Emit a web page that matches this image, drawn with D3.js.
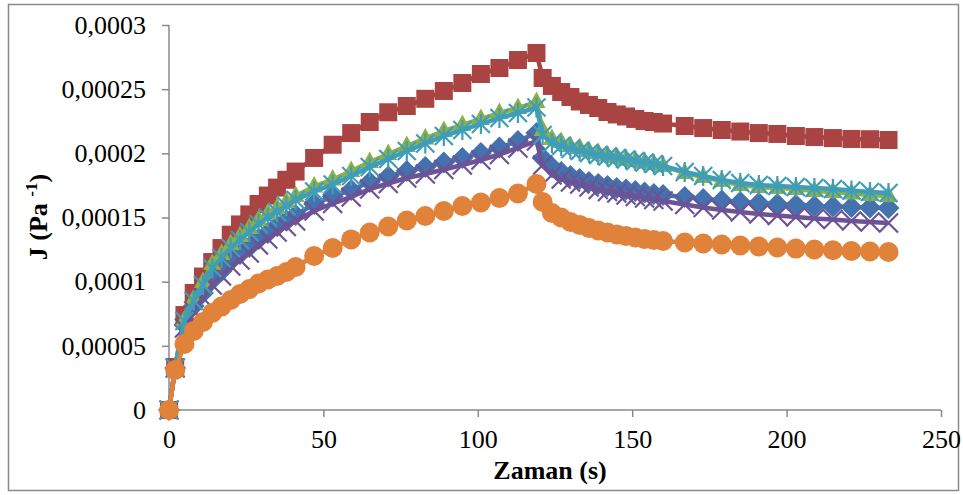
<!DOCTYPE html>
<html><head><meta charset="utf-8">
<script src="https://cdn.jsdelivr.net/npm/d3@7"></script>
<style>body{margin:0;background:#fff} svg{display:block}</style>
</head><body><svg id="c" width="963" height="495"></svg>
<script>
// Time (s)
const creepTime = [0,2,5,8,11,14,17,20,23,26,29,32,35,38,41,47,53,59,65,71,77,83,89,95,101,107,113,119];
const recoveryTime = [121,124,127,130,133,136,139,142,145,148,151,154,157,160,167,173,179,185,191,197,203,209,215,221,227,233];
const xTicks = [0,50,100,150,200,250];
const yTicks = [0,0.00005,0.0001,0.00015,0.0002,0.00025,0.0003];
const yTickLabels = ["0","0,00005","0,0001","0,00015","0,0002","0,00025","0,0003"];

// J (Pa^-1) — series 1: blue diamonds
const blueCreep = [0,3.27e-5,6.62e-5,8.10e-5,9.12e-5,1.013e-4,1.083e-4,1.161e-4,1.216e-4,1.270e-4,1.332e-4,1.379e-4,1.434e-4,1.477e-4,1.519e-4,1.605e-4,1.664e-4,1.714e-4,1.777e-4,1.819e-4,1.862e-4,1.894e-4,1.929e-4,1.964e-4,2.003e-4,2.045e-4,2.096e-4,2.158e-4];
const blueRecovery = [1.964e-4,1.894e-4,1.855e-4,1.823e-4,1.800e-4,1.777e-4,1.761e-4,1.745e-4,1.730e-4,1.718e-4,1.706e-4,1.695e-4,1.683e-4,1.675e-4,1.660e-4,1.644e-4,1.632e-4,1.621e-4,1.613e-4,1.605e-4,1.597e-4,1.590e-4,1.586e-4,1.582e-4,1.578e-4,1.574e-4];
// series 2: red squares
const redCreep = [0,3.35e-5,7.40e-5,9.12e-5,1.040e-4,1.153e-4,1.262e-4,1.366e-4,1.446e-4,1.524e-4,1.605e-4,1.671e-4,1.733e-4,1.794e-4,1.858e-4,1.964e-4,2.067e-4,2.158e-4,2.244e-4,2.320e-4,2.369e-4,2.425e-4,2.486e-4,2.548e-4,2.618e-4,2.665e-4,2.727e-4,2.782e-4];
const redRecovery = [2.587e-4,2.525e-4,2.478e-4,2.439e-4,2.404e-4,2.377e-4,2.353e-4,2.322e-4,2.303e-4,2.287e-4,2.268e-4,2.252e-4,2.244e-4,2.232e-4,2.213e-4,2.197e-4,2.182e-4,2.170e-4,2.158e-4,2.151e-4,2.135e-4,2.127e-4,2.119e-4,2.112e-4,2.110e-4,2.104e-4];
// series 3: green triangles
const greenCreep = [0,3.27e-5,7.01e-5,8.65e-5,9.97e-5,1.138e-4,1.216e-4,1.294e-4,1.356e-4,1.418e-4,1.481e-4,1.531e-4,1.574e-4,1.621e-4,1.668e-4,1.742e-4,1.796e-4,1.862e-4,1.932e-4,1.995e-4,2.057e-4,2.116e-4,2.174e-4,2.221e-4,2.268e-4,2.314e-4,2.353e-4,2.400e-4];
const greenRecovery = [2.182e-4,2.112e-4,2.088e-4,2.057e-4,2.042e-4,2.018e-4,2.003e-4,1.983e-4,1.971e-4,1.952e-4,1.940e-4,1.929e-4,1.917e-4,1.901e-4,1.847e-4,1.816e-4,1.784e-4,1.753e-4,1.738e-4,1.730e-4,1.722e-4,1.706e-4,1.699e-4,1.687e-4,1.675e-4,1.668e-4];
// series 4: purple x with line
const purpleCreep = [0,3.27e-5,6.39e-5,7.71e-5,8.73e-5,9.74e-5,1.044e-4,1.122e-4,1.169e-4,1.223e-4,1.286e-4,1.332e-4,1.387e-4,1.430e-4,1.473e-4,1.551e-4,1.609e-4,1.660e-4,1.722e-4,1.765e-4,1.808e-4,1.839e-4,1.874e-4,1.909e-4,1.948e-4,1.991e-4,2.042e-4,2.096e-4];
const purpleRecovery = [1.909e-4,1.831e-4,1.800e-4,1.777e-4,1.761e-4,1.738e-4,1.718e-4,1.703e-4,1.691e-4,1.675e-4,1.664e-4,1.652e-4,1.640e-4,1.629e-4,1.601e-4,1.578e-4,1.558e-4,1.543e-4,1.527e-4,1.516e-4,1.504e-4,1.492e-4,1.484e-4,1.473e-4,1.465e-4,1.457e-4];
// series 5: cyan stars with line
const cyanCreep = [0,3.27e-5,6.94e-5,8.49e-5,9.74e-5,1.106e-4,1.184e-4,1.262e-4,1.325e-4,1.387e-4,1.449e-4,1.500e-4,1.543e-4,1.590e-4,1.636e-4,1.703e-4,1.757e-4,1.823e-4,1.893e-4,1.956e-4,2.018e-4,2.077e-4,2.135e-4,2.182e-4,2.229e-4,2.275e-4,2.314e-4,2.357e-4];
const cyanRecovery = [2.143e-4,2.080e-4,2.057e-4,2.034e-4,2.018e-4,2.003e-4,1.987e-4,1.975e-4,1.964e-4,1.952e-4,1.940e-4,1.929e-4,1.917e-4,1.901e-4,1.855e-4,1.823e-4,1.792e-4,1.769e-4,1.753e-4,1.745e-4,1.738e-4,1.730e-4,1.722e-4,1.710e-4,1.699e-4,1.691e-4];
// series 6: orange circles
const orangeCreep = [0,3.12e-5,5.14e-5,6.16e-5,6.86e-5,7.56e-5,8.06e-5,8.57e-5,9.04e-5,9.43e-5,9.86e-5,1.017e-4,1.044e-4,1.075e-4,1.114e-4,1.200e-4,1.262e-4,1.329e-4,1.383e-4,1.430e-4,1.477e-4,1.512e-4,1.551e-4,1.590e-4,1.617e-4,1.652e-4,1.687e-4,1.761e-4];
const orangeRecovery = [1.621e-4,1.535e-4,1.500e-4,1.465e-4,1.442e-4,1.418e-4,1.399e-4,1.383e-4,1.368e-4,1.356e-4,1.344e-4,1.332e-4,1.325e-4,1.317e-4,1.305e-4,1.297e-4,1.290e-4,1.282e-4,1.274e-4,1.266e-4,1.258e-4,1.251e-4,1.245e-4,1.239e-4,1.235e-4,1.231e-4];

const time = creepTime.concat(recoveryTime);
const series = [
  {name:"1", color:"#4372AE", marker:"diamond", values: blueCreep.concat(blueRecovery)},
  {name:"2", color:"#A94442", marker:"square", values: redCreep.concat(redRecovery)},
  {name:"3", color:"#8CB048", marker:"triangle", values: greenCreep.concat(greenRecovery)},
  {name:"4", color:"#6C5396", marker:"x", values: purpleCreep.concat(purpleRecovery)},
  {name:"5", color:"#3E9EBA", marker:"star", values: cyanCreep.concat(cyanRecovery)},
  {name:"6", color:"#E0823A", marker:"circle", values: orangeCreep.concat(orangeRecovery)}
];

const svg = d3.select("#c");
const font = "'Liberation Serif','Times New Roman',serif";
const axisColor = "#8a8a8a";

svg.append("rect").attr("x",8.5).attr("y",4.5).attr("width",950).attr("height",486)
  .attr("fill","none").attr("stroke",axisColor).attr("stroke-width",1.5);

const x = d3.scaleLinear().domain([0,250]).range([169,941]);
const y = d3.scaleLinear().domain([0,0.0003]).range([410,25]);

// axes
const yAxis = d3.axisLeft(y).tickValues(yTicks).tickFormat((d,i)=>yTickLabels[i]).tickSize(7).tickPadding(16);
const gy = svg.append("g").attr("transform",`translate(${x(0)},0)`).call(yAxis);
const xAxis = d3.axisBottom(x).tickValues(xTicks).tickFormat(d=>String(d)).tickSize(7).tickPadding(13);
const gx = svg.append("g").attr("transform",`translate(0,${y(0)})`).call(xAxis);
[gx,gy].forEach(g=>{
  g.select(".domain").attr("stroke",axisColor).attr("stroke-width",1.5);
  g.selectAll(".tick line").attr("stroke",axisColor).attr("stroke-width",1.5);
  g.selectAll(".tick text").attr("font-family",font).attr("font-size",26).attr("fill","#000");
});
gy.select(".domain").attr("d",`M-0,${y(0.0003)}V${y(0)}`);
gx.select(".domain").attr("d",`M${x(0)},0H${x(250)}`);

// series
const line = d3.line().x((d,i)=>x(time[i])).y(d=>y(d));
function markerPath(type){
  const p = d3.path();
  if(type==="square"){ const s=9; p.rect(-s,-s,2*s,2*s); }
  else if(type==="diamond"){ const s=11; p.moveTo(0,-s); p.lineTo(s,0); p.lineTo(0,s); p.lineTo(-s,0); p.closePath(); }
  else if(type==="triangle"){ p.moveTo(0,-10.5); p.lineTo(9,6); p.lineTo(-9,6); p.closePath(); }
  else if(type==="x"){ const s=9.5; p.moveTo(-s,-s); p.lineTo(s,s); p.moveTo(s,-s); p.lineTo(-s,s); }
  else if(type==="star"){ const s=9; p.moveTo(-s,-s); p.lineTo(s,s); p.moveTo(s,-s); p.lineTo(-s,s); p.moveTo(0,-s-1); p.lineTo(0,s+1); }
  return p.toString();
}
series.forEach(s=>{
  const g = svg.append("g");
  g.append("path").attr("d",line(s.values)).attr("fill","none")
    .attr("stroke",s.color).attr("stroke-width",4.5).attr("stroke-linejoin","round");
  const m = g.selectAll(".m").data(s.values).enter();
  if(s.marker==="circle"){
    m.append("circle").attr("cx",(d,i)=>x(time[i])).attr("cy",d=>y(d)).attr("r",10)
      .attr("fill",s.color);
  } else if(s.marker==="x"||s.marker==="star"){
    m.append("path").attr("d",markerPath(s.marker))
      .attr("transform",(d,i)=>`translate(${x(time[i])},${y(d)})`)
      .attr("fill","none").attr("stroke",s.color).attr("stroke-width",2.2);
  } else {
    m.append("path").attr("d",markerPath(s.marker))
      .attr("transform",(d,i)=>`translate(${x(time[i])},${y(d)})`)
      .attr("fill",s.color);
  }
});

// titles
svg.append("text").attr("x",550).attr("y",479).attr("text-anchor","middle")
  .attr("font-family",font).attr("font-size",26).attr("font-weight","bold").text("Zaman (s)");
const yt = svg.append("text").attr("transform","translate(47,217) rotate(-90)").attr("text-anchor","middle")
  .attr("font-family",font).attr("font-size",26).attr("font-weight","bold");
yt.append("tspan").text("J (Pa ");
yt.append("tspan").attr("font-size",17).attr("dy",-10).text("-1");
yt.append("tspan").attr("dy",10).text(")");
</script></body></html>
